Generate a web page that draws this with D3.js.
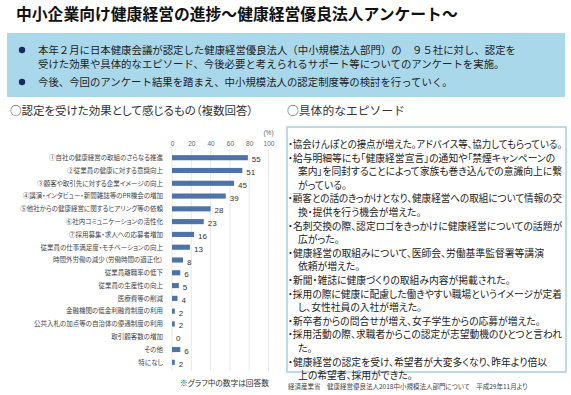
<!DOCTYPE html>
<html>
<head>
<meta charset="utf-8">
<script src="https://cdn.jsdelivr.net/npm/d3@7"></script>
<style>
  body { margin: 0; background: #fff; }
  svg text { font-family: "Noto Sans CJK JP", "Noto Sans", sans-serif; }
  svg text.p { font-feature-settings: "palt"; }
</style>
</head>
<body>
<div id="container"></div>
<script>
// Survey data
const categories = [
  "①自社の健康経営の取組のさらなる推進",
  "②従業員の健康に対する意識向上",
  "③顧客や取引先に対する企業イメージの向上",
  "④講演・インタビュー・新聞雑誌等のPR機会の増加",
  "⑤他社からの健康経営に関するヒアリング等の依頼",
  "⑥社内コミュニケーションの活性化",
  "⑦採用募集・求人への応募者増加",
  "従業員の仕事満足度・モチベーションの向上",
  "時間外労働の減少（労働時間の適正化）",
  "従業員離職率の低下",
  "従業員の生産性の向上",
  "医療費等の削減",
  "金融機関の低金利融資制度の利用",
  "公共入札の加点等の自治体の優遇制度の利用",
  "取引顧客数の増加",
  "その他",
  "特になし"
];
// answer counts (the numbers printed next to bars)
const counts = [55, 51, 45, 39, 28, 23, 16, 13, 8, 6, 5, 4, 2, 2, 0, 6, 2];
// bar length in % as read against the axis
const percents = [78.6, 72.9, 64.3, 55.7, 40.0, 32.9, 22.9, 18.6, 11.4, 8.6, 7.1, 5.7, 2.9, 2.9, 0, 8.6, 2.9];
const xTicks = [0, 20, 40, 60, 80, 100];

const title = "中小企業向け健康経営の進捗～健康経営優良法人アンケート～";
const summary = [
  ["本年２月に日本健康会議が認定した健康経営優良法人（中小規模法人部門）の　９５社に対し、認定を",
   "受けた効果や具体的なエピソード、今後必要と考えられるサポート等についてのアンケートを実施。"],
  ["今後、今回のアンケート結果を踏まえ、中小規模法人の認定制度等の検討を行っていく。"]
];
const chartTitle = "○認定を受けた効果として感じるもの（複数回答）";
const episodeTitle = "○具体的なエピソード";
const episodes = [
  ["・協会けんぽとの接点が増えた。アドバイス等、協力してもらっている。"],
  ["・給与明細等にも「健康経営宣言」の通知や「禁煙キャンペーンの", "案内」を同封することによって家族も巻き込んでの意識向上に繋", "がっている。"],
  ["・顧客との話のきっかけとなり、健康経営への取組について情報の交", "換・提供を行う機会が増えた。"],
  ["・名刺交換の際、認定ロゴをきっかけに健康経営についての話題が", "広がった。"],
  ["・健康経営の取組みについて、医師会、労働基準監督署等講演", "依頼が増えた。"],
  ["・新聞・雑誌に健康づくりの取組み内容が掲載された。"],
  ["・採用の際に健康に配慮した働きやすい職場というイメージが定着", "し、女性社員の入社が増えた。"],
  ["・新卒者からの問合せが増え、女子学生からの応募が増えた。"],
  ["・採用活動の際、求職者からこの認定が志望動機のひとつと言われ", "た。"],
  ["・健康経営の認定を受け、希望者が大変多くなり、昨年より倍以", "上の希望者、採用ができた。"]
];
const note = "※グラフ中の数字は回答数";
const source = "経済産業省　健康経営優良法人2018中小規模法人部門について　平成29年11月より";

const width = 571;
const height = 395;
const svg = d3.create("svg")
  .attr("width", width)
  .attr("height", height);

container.append(svg.node());

// squeeze a text line if it runs past the given right edge
const fit = function (sel, right) {
  const node = sel.node();
  const x0 = +sel.attr("x");
  const len = node.getComputedTextLength();
  if (x0 + len > right) {
    sel.attr("textLength", right - x0).attr("lengthAdjust", "spacingAndGlyphs");
  }
  return sel;
}

// title
svg.append("text")
  .attr("x", 16).attr("y", 20)
  .attr("font-size", 15.8).attr("font-weight", "bold")
  .attr("fill", "#111")
  .text(title);

// light blue summary band
svg.append("rect")
  .attr("x", 7).attr("y", 33).attr("width", 558).attr("height", 64)
  .attr("fill", "#a9d8ea");

let yy = 54;
summary.forEach((item, i) => {
  svg.append("circle")
    .attr("cx", 22).attr("cy", yy - 4).attr("r", 3.2)
    .attr("fill", "#1a2a5e");
  item.forEach((line) => {
    const t = svg.append("text")
      .attr("x", 38).attr("y", yy)
      .attr("font-size", 10.4).attr("fill", "#222")
      .text(line);
    fit(t, 530);
    yy += 14;
  });
  yy += 4;
});

// section headings
svg.append("text")
  .attr("class", "p")
  .attr("x", 10).attr("y", 115)
  .attr("font-size", 11.5).attr("fill", "#333")
  .text(chartTitle);
svg.append("text")
  .attr("x", 287).attr("y", 115)
  .attr("font-size", 11.8).attr("fill", "#333")
  .text(episodeTitle);

// bar chart
const x = d3.scaleLinear()
  .domain([0, 100])
  .range([172, 268.5]);

const y = d3.scaleBand()
  .domain(categories)
  .range([151.3, 368.7])
  .paddingInner(0.6)
  .paddingOuter(0.3);

svg.append("g")
  .selectAll("line")
  .data(xTicks)
  .join("line")
  .attr("x1", d => x(d)).attr("x2", d => x(d))
  .attr("y1", 149).attr("y2", 371)
  .attr("stroke", "#e3e3e3")
  .attr("stroke-width", 0.8);

const xAxis = svg.append("g")
  .attr("transform", "translate(0,146)")
  .call(d3.axisTop(x).tickValues(xTicks).tickSize(0).tickPadding(0));
xAxis.select(".domain").remove();
xAxis.selectAll("text")
  .attr("font-size", 6.5)
  .attr("fill", "#666")
  .style("font-family", "'Liberation Sans', sans-serif");

svg.append("text")
  .attr("x", x(100)).attr("y", 135)
  .attr("text-anchor", "middle")
  .attr("font-size", 6.5).attr("fill", "#666")
  .style("font-family", "'Liberation Sans', sans-serif")
  .text("(%)");

svg.append("g")
  .selectAll("text")
  .data(categories)
  .join("text")
  .attr("class", "p")
  .attr("x", 163)
  .attr("y", d => y(d) + y.bandwidth() / 2 + 2.3)
  .attr("text-anchor", "end")
  .attr("font-size", 6.5)
  .attr("fill", "#444")
  .text(d => d);

svg.append("g")
  .selectAll("rect")
  .data(percents)
  .join("rect")
  .attr("x", x(0))
  .attr("y", (d, i) => y(categories[i]))
  .attr("width", d => x(d) - x(0))
  .attr("height", y.bandwidth())
  .attr("fill", "#4e73a8");

svg.append("g")
  .selectAll("text")
  .data(counts)
  .join("text")
  .attr("x", (d, i) => x(percents[i]) + 4)
  .attr("y", (d, i) => y(categories[i]) + y.bandwidth() / 2 + 4.5)
  .attr("font-size", 8)
  .attr("fill", "#333")
  .style("font-family", "'Liberation Sans', sans-serif")
  .text(d => d);

svg.append("text")
  .attr("class", "p")
  .attr("x", 180).attr("y", 386)
  .attr("font-size", 7.7).attr("fill", "#333")
  .text(note);

// episode box
svg.append("rect")
  .attr("x", 287).attr("y", 127).attr("width", 279).attr("height", 245)
  .attr("fill", "#fff")
  .attr("stroke", "#a8cfe0")
  .attr("stroke-width", 1.5);

let ey = 148;
episodes.forEach((item) => {
  item.forEach((line, j) => {
    const t = svg.append("text")
      .attr("class", "p")
      .attr("x", j === 0 ? 288 : 298)
      .attr("y", ey)
      .attr("font-size", 9.8)
      .attr("fill", "#222")
      .text(line);
    fit(t, 562);
    ey += 13.6;
  });
});

svg.append("text")
  .attr("class", "p")
  .attr("x", 288).attr("y", 389)
  .attr("font-size", 6.5).attr("fill", "#444")
  .text(source);
</script>
</body>
</html>
